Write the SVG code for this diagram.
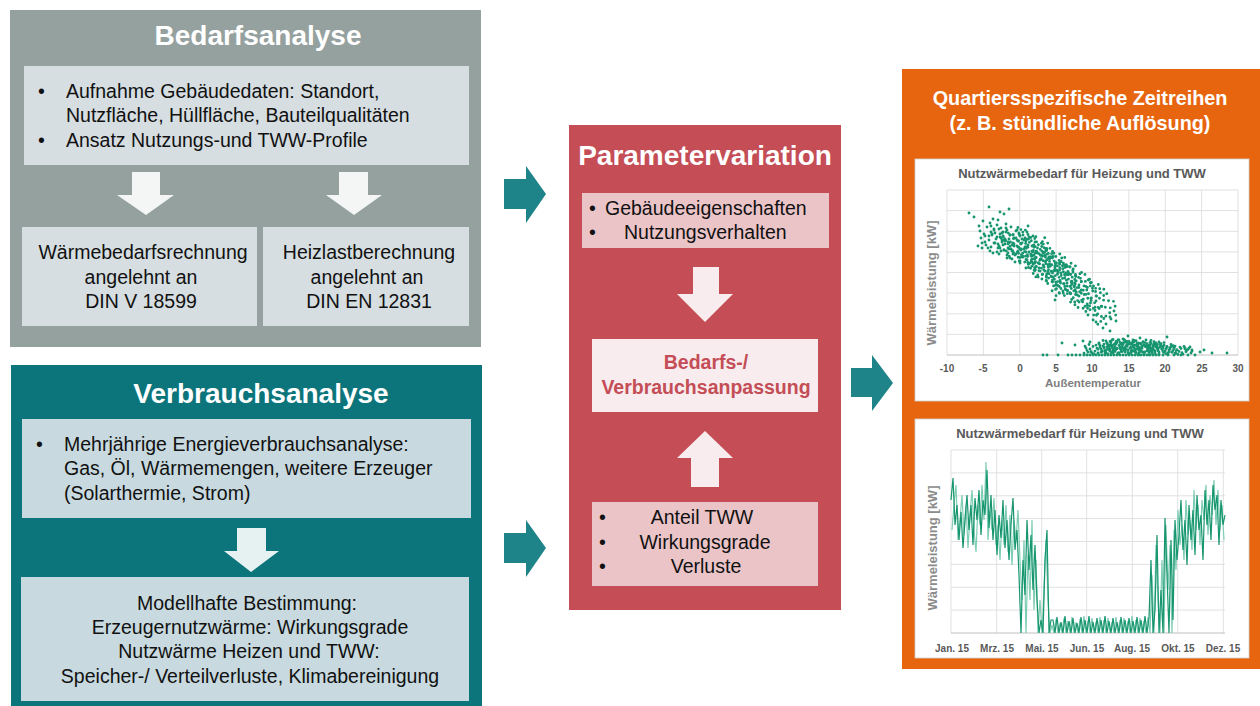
<svg xmlns="http://www.w3.org/2000/svg" xmlns:xlink="http://www.w3.org/1999/xlink" width="1260" height="706" viewBox="0 0 1260 706">
<style>
text{font-family:"Liberation Sans",Arial,sans-serif}
.title{font-size:28px;font-weight:bold;fill:#fff;text-anchor:middle}
.body{font-size:19.5px;fill:#111}
.mid{text-anchor:middle}
.otitle{font-size:19.8px;font-weight:bold;fill:#fff;text-anchor:middle}
.ctitle{font-size:13px;font-weight:bold;fill:#595959;text-anchor:middle}
.tick{font-size:10px;font-weight:bold;fill:#595959;text-anchor:middle}
.axl{font-size:11.5px;font-weight:bold;fill:#7f7f7f;text-anchor:middle}
.ylab{font-size:13px;font-weight:bold;fill:#8c8c8c;text-anchor:middle}
.grid{stroke:#d9d9d9;stroke-width:0.8;fill:none}
.dot{stroke:#17956f;stroke-width:2.9;stroke-linecap:round;fill:none;vector-effect:non-scaling-stroke}
.tarrow{fill:#1f8489}
</style>
<defs>
<path id="blob" class="dot" d="M-12-3h0M-7 8h0M-2-11h0M4 5h0M9-6h0M13 10h0M-14 12h0M0 1h0M6-14h0M-9-13h0M11 2h0M-4 14h0M2-5h0M14-10h0M-11 4h0M7 12h0M-5-7h0M3 9h0M-1-2h0M10-1h0M-8 0h0M5-9h0M-13-8h0M12 6h0M-3 6h0M8 3h0M-6 11h0M1-15h0M15-4h0M-10 9h0"/>
</defs>

<g id="bedarfsanalyse">
<rect x="10" y="10" width="471" height="337" fill="#95a19f"/>
<text class="title" x="258" y="45">Bedarfsanalyse</text>
<rect x="24" y="66" width="445" height="99" fill="#d6dee1"/>
<text class="body" x="38" y="98">•</text>
<text class="body" x="66" y="98">Aufnahme Gebäudedaten: Standort,</text>
<text class="body" x="66" y="122">Nutzfläche, Hüllfläche, Bauteilqualitäten</text>
<text class="body" x="38" y="147">•</text>
<text class="body" x="66" y="147">Ansatz Nutzungs-und TWW-Profile</text>
</g>
<g id="waermebedarf">
<rect x="22" y="227" width="235" height="99" fill="#d6dee1"/>
<text class="body mid" x="143" y="259">Wärmebedarfsrechnung</text>
<text class="body mid" x="141" y="284">angelehnt an</text>
<text class="body mid" x="141" y="308">DIN V 18599</text>
</g>
<g id="heizlast">
<rect x="263" y="227" width="206" height="99" fill="#d6dee1"/>
<text class="body mid" x="369" y="259">Heizlastberechnung</text>
<text class="body mid" x="367" y="284">angelehnt an</text>
<text class="body mid" x="369" y="308">DIN EN 12831</text>
</g>

<g id="verbrauchsanalyse">
<rect x="11" y="365" width="471" height="345" fill="#0c747b"/>
<text class="title" x="261" y="403">Verbrauchsanalyse</text>
<rect x="22" y="419" width="449" height="99" fill="#c8dadf"/>
<text class="body" x="36" y="451">•</text>
<text class="body" x="64" y="451">Mehrjährige Energieverbrauchsanalyse:</text>
<text class="body" x="64" y="475">Gas, Öl, Wärmemengen, weitere Erzeuger</text>
<text class="body" x="64" y="500">(Solarthermie, Strom)</text>
</g>
<g id="modellhafte">
<rect x="21" y="577" width="448" height="124" fill="#c8dadf"/>
<text class="body mid" x="247" y="610">Modellhafte Bestimmung:</text>
<text class="body mid" x="250" y="634">Erzeugernutzwärme: Wirkungsgrade</text>
<text class="body mid" x="249" y="658">Nutzwärme Heizen und TWW:</text>
<text class="body mid" x="250" y="683">Speicher-/ Verteilverluste, Klimabereinigung</text>
</g>

<g id="parametervariation">
<rect x="569" y="125" width="272" height="485" fill="#c44d56"/>
<text class="title" x="705" y="165">Parametervariation</text>
<rect x="582" y="193" width="247" height="55" fill="#ebc4c8"/>
<text class="body" x="589" y="215">•</text>
<text class="body" x="605" y="215">Gebäudeeigenschaften</text>
<text class="body" x="589" y="239">•</text>
<text class="body" x="624" y="239">Nutzungsverhalten</text>
</g>
<g id="anpassung">
<rect x="592" y="339" width="226" height="73" fill="#f8ecee"/>
<text x="706" y="369" style="font-size:19.5px;font-weight:bold;fill:#c44d56;text-anchor:middle">Bedarfs-/</text>
<text x="706" y="394" style="font-size:19.5px;font-weight:bold;fill:#c44d56;text-anchor:middle">Verbrauchsanpassung</text>
</g>
<g id="einfluss">
<rect x="592" y="502" width="226" height="84" fill="#ebc4c8"/>
<text class="body" x="599" y="524">•</text>
<text class="body mid" x="702" y="524">Anteil TWW</text>
<text class="body" x="599" y="549">•</text>
<text class="body mid" x="705" y="549">Wirkungsgrade</text>
<text class="body" x="599" y="573">•</text>
<text class="body mid" x="706" y="573">Verluste</text>
</g>

<g id="zeitreihen">
<rect x="902" y="69" width="358" height="600" fill="#e8650f"/>
<text class="otitle" x="1080" y="105">Quartiersspezifische Zeitreihen</text>
<text class="otitle" x="1080" y="130">(z. B. stündliche Auflösung)</text>
</g>

<g id="chart-scatter">
<rect x="915" y="159" width="334" height="242" fill="#fff" stroke="#d0d0d0" stroke-width="0.8"/>
<text class="ctitle" x="1082" y="178">Nutzwärmebedarf für Heizung und TWW</text>
<path class="grid" d="M947 190H1238M947 210.6H1238M947 231.3H1238M947 251.9H1238M947 272.5H1238M947 293.1H1238M947 313.8H1238M947 334.4H1238M947 190V355M983.4 190V355M1019.8 190V355M1056.1 190V355M1092.5 190V355M1128.9 190V355M1165.3 190V355M1201.6 190V355M1238 190V355"/>
<path d="M947 355H1238" stroke="#bfbfbf" stroke-width="1"/>
<g>
<use xlink:href="#blob" transform="translate(992 234)"/>
<use xlink:href="#blob" transform="translate(1003 240) rotate(90)"/>
<use xlink:href="#blob" transform="translate(1013 244) rotate(180)"/>
<use xlink:href="#blob" transform="translate(1023 249) rotate(270)"/>
<use xlink:href="#blob" transform="translate(1032 254) rotate(45)"/>
<use xlink:href="#blob" transform="translate(1041 260) rotate(135)"/>
<use xlink:href="#blob" transform="translate(1049 265) rotate(225)"/>
<use xlink:href="#blob" transform="translate(1057 271) rotate(315)"/>
<use xlink:href="#blob" transform="translate(1065 277) rotate(20)"/>
<use xlink:href="#blob" transform="translate(1073 284) rotate(110)"/>
<use xlink:href="#blob" transform="translate(1081 291) rotate(200)"/>
<use xlink:href="#blob" transform="translate(1090 298) rotate(290)"/>
<use xlink:href="#blob" transform="translate(1100 308) rotate(60)"/>
<use xlink:href="#blob" transform="translate(1019 242) rotate(160)"/>
<use xlink:href="#blob" transform="translate(1045 264) rotate(250)"/>
<use xlink:href="#blob" transform="translate(1035 252) rotate(340)"/>
<use xlink:href="#blob" transform="translate(1061 280) rotate(70)"/>
<use xlink:href="#blob" transform="translate(1112 347) scale(1 0.5)"/>
<use xlink:href="#blob" transform="translate(1125 347) scale(-1 0.5)"/>
<use xlink:href="#blob" transform="translate(1138 348) scale(1 -0.45)"/>
<use xlink:href="#blob" transform="translate(1150 348) scale(-1 -0.45)"/>
<use xlink:href="#blob" transform="translate(1119 346) scale(1 0.5) rotate(180)"/>
<use xlink:href="#blob" transform="translate(1145 346) scale(1 0.4)"/>
<use xlink:href="#blob" transform="translate(1162 349) scale(-1 0.35)"/>
<use xlink:href="#blob" transform="translate(1177 350) scale(1 -0.3)"/>
<use xlink:href="#blob" transform="translate(1098 349) scale(1 0.35)"/>
<path class="dot" d="M969 213h0M974 217h0M989 207h0M985 236h0M982 248h0M990 251h0M1000 212h0M1009 209h0M1004 214h0M1106 324h0M1110 317h0M1116 321h0M1088 315h0M1110 331h0M1055 300h0M1020 263h0M1096 322h0M1103 328h0M1114 311h0M1062 343h0M1075 345h0M1083 341h0M1090 342h0M1185 348h0M1192 350h0M1200 352h0M1204 350h0M1212 353h0M1227 353h0M1167 337h0M1140 338h0M1128 336h0M1043 355h0M1047 355h0M1058 355h0M1068 355h0M1072 355h0M1076 355h0M1080 355h0M1084 355h0M1087 355h0M1090 355h0M1093 355h0M1096 355h0M1099 355h0M1102 355h0M1105 355h0M1108 355h0M1111 355h0M1114 355h0M1117 355h0M1120 355h0M1123 355h0M1126 355h0M1129 355h0M1132 355h0M1135 355h0M1138 355h0M1141 355h0M1144 355h0M1147 355h0M1150 355h0M1153 355h0M1156 355h0M1159 355h0M1163 355h0M1168 355h0M1174 355h0M1181 355h0M1188 355h0M1195 355h0"/>
</g>
<text class="tick" x="947" y="372">-10</text>
<text class="tick" x="983" y="372">-5</text>
<text class="tick" x="1020" y="372">0</text>
<text class="tick" x="1056" y="372">5</text>
<text class="tick" x="1092" y="372">10</text>
<text class="tick" x="1129" y="372">15</text>
<text class="tick" x="1165" y="372">20</text>
<text class="tick" x="1202" y="372">25</text>
<text class="tick" x="1238" y="372">30</text>
<text class="axl" x="1093" y="387">Außentemperatur</text>
<text class="ylab" transform="translate(936 283) rotate(-90)">Wärmeleistung [kW]</text>
</g>

<g id="chart-timeseries">
<rect x="915" y="419" width="334" height="239" fill="#fff" stroke="#d0d0d0" stroke-width="0.8"/>
<text class="ctitle" x="1080" y="438">Nutzwärmebedarf für Heizung und TWW</text>
<path class="grid" d="M951 450H1225M951 472.9H1225M951 495.8H1225M951 518.6H1225M951 541.5H1225M951 564.4H1225M951 587.3H1225M951 610.1H1225M951 450V633M996.7 450V633M1041.7 450V633M1086.7 450V633M1132.3 450V633M1177.7 450V633M1223.3 450V633"/>
<path d="M951 633H1225" stroke="#bfbfbf" stroke-width="1"/>
<polyline fill="none" stroke="#7fcdb2" stroke-width="1.2" points="952,530 954,505 956,485 958,540 960,520 962,495 964,535 966,505 968,548 970,515 972,490 974,530 976,552 978,505 980,525 982,485 984,520 986,462 988,540 990,510 992,530 994,498 996,545 998,525 1000,560 1002,520 1004,545 1006,505 1008,552 1010,515 1012,565 1014,520 1016,540 1018,510 1020,560 1022,600 1024,540 1026,633 1028,555 1030,600 1032,520 1034,610 1036,560 1038,633 1040,600 1042,633 1044,590 1046,540 1048,600 1050,633 1052,625 1054,633 1056,619 1058,633 1060,623 1062,633 1064,618 1066,633 1068,621 1070,633 1072,617 1074,633 1076,622 1078,633 1080,619 1082,633 1084,616 1086,633 1088,621 1090,633 1092,618 1094,633 1096,622 1098,633 1100,617 1102,633 1104,620 1106,633 1108,618 1110,633 1112,622 1114,633 1116,617 1118,633 1120,620 1122,633 1124,618 1126,633 1128,621 1130,633 1132,616 1134,633 1136,620 1138,633 1140,618 1142,633 1144,621 1146,633 1148,617 1150,633 1152,575 1154,633 1156,545 1158,600 1160,633 1162,560 1164,633 1166,525 1168,590 1170,545 1172,633 1174,530 1176,570 1178,510 1180,545 1182,525 1184,560 1186,500 1188,535 1190,520 1192,550 1194,490 1196,530 1198,505 1200,545 1202,500 1204,520 1206,485 1208,535 1210,495 1212,515 1214,480 1216,525 1218,490 1220,530 1222,505 1224,540"/>
<polyline fill="none" stroke="#17956f" stroke-width="1.2" points="951,500 953,478 955,525 957,505 959,540 961,512 963,548 965,520 967,495 969,530 971,505 973,545 975,498 977,520 979,490 981,535 983,500 985,515 987,470 989,528 991,495 993,540 995,510 997,555 999,515 1001,538 1003,500 1005,548 1007,520 1009,560 1011,525 1013,498 1015,550 1017,530 1019,575 1021,633 1023,560 1025,595 1027,520 1029,570 1031,535 1033,590 1035,545 1037,600 1039,633 1041,620 1043,633 1045,560 1047,530 1049,633 1051,620 1053,620 1055,633 1057,617 1059,633 1061,622 1063,633 1065,616 1067,633 1069,621 1071,633 1073,618 1075,633 1077,623 1079,633 1081,617 1083,633 1085,620 1087,633 1089,616 1091,633 1093,622 1095,633 1097,618 1099,633 1101,620 1103,633 1105,616 1107,633 1109,621 1111,633 1113,618 1115,633 1117,622 1119,633 1121,617 1123,633 1125,620 1127,633 1129,618 1131,633 1133,621 1135,633 1137,617 1139,633 1141,620 1143,633 1145,616 1147,633 1149,618 1151,560 1153,633 1155,610 1157,535 1159,633 1161,590 1163,633 1165,518 1167,575 1169,633 1171,540 1173,620 1175,520 1177,560 1179,535 1181,500 1183,550 1185,520 1187,565 1189,505 1191,540 1193,510 1195,555 1197,495 1199,530 1201,515 1203,560 1205,490 1207,525 1209,500 1211,540 1213,485 1215,510 1217,495 1219,545 1221,500 1223,525 1225,515"/>
<text class="tick" x="952" y="652">Jan. 15</text>
<text class="tick" x="997" y="652">Mrz. 15</text>
<text class="tick" x="1042" y="652">Mai. 15</text>
<text class="tick" x="1087" y="652">Jun. 15</text>
<text class="tick" x="1132" y="652">Aug. 15</text>
<text class="tick" x="1178" y="652">Okt. 15</text>
<text class="tick" x="1223" y="652">Dez. 15</text>
<text class="ylab" transform="translate(937 548) rotate(-90)">Wärmeleistung [kW]</text>
</g>

<g id="connectors">
<path fill="#f4f6f6" d="M132 172H160V195H174L146 215L117 195H132Z"/>
<path fill="#f4f6f6" d="M339 172H368V195H382L354 215L326 195H339Z"/>
<path fill="#e6f2f2" d="M237 528H266V551H279L251 572L224 551H237Z"/>
<path fill="#f8ecee" d="M693 267H719V294H733L705 322L677 294H693Z"/>
<path fill="#f8ecee" d="M691 487H719V458H733L705 431L677 458H691Z"/>
<path class="tarrow" d="M504 179H526V166L546 194L526 223V209H504Z"/>
<path class="tarrow" d="M504 533H526V520L546 548L526 577V563H504Z"/>
<path class="tarrow" d="M851 368H872V355L893 383L872 411V397H851Z"/>
</g>
</svg>
